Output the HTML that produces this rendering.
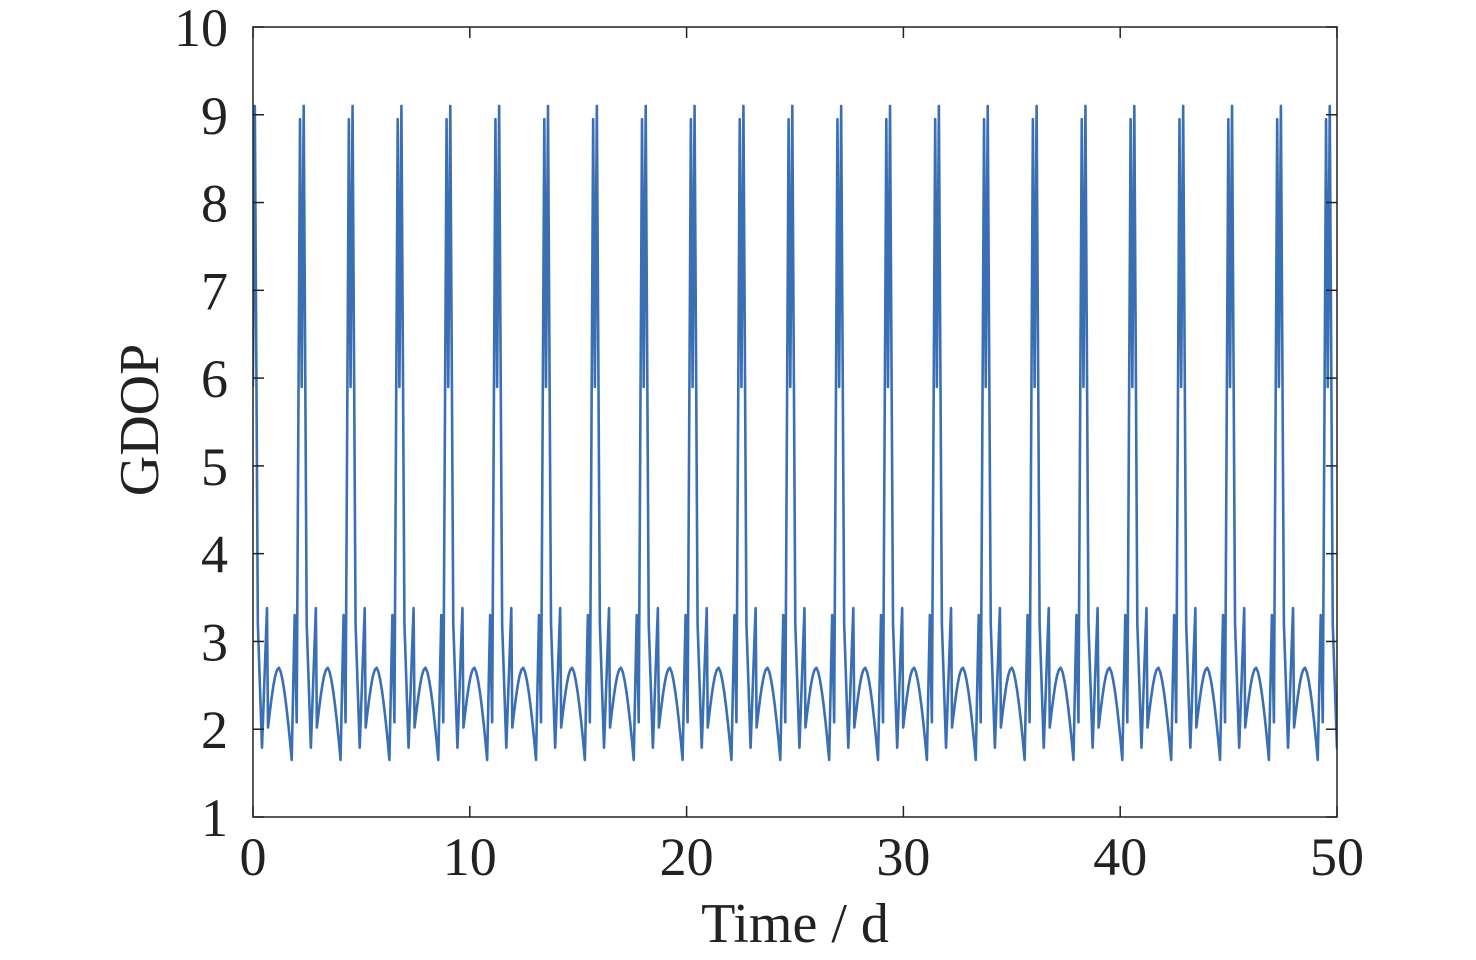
<!DOCTYPE html>
<html><head><meta charset="utf-8"><style>
html,body{margin:0;padding:0;background:#fff;width:1476px;height:960px;overflow:hidden}
text{font-family:"Liberation Serif",serif;fill:#222}
</style></head><body>
<svg id="s" width="1476" height="960" xmlns="http://www.w3.org/2000/svg">
<defs><clipPath id="c"><rect x="253" y="20" width="1084" height="797"/></clipPath></defs>
<path id="line" d="" fill="none" stroke="#3a6fb4" stroke-width="2.6" stroke-linejoin="round" clip-path="url(#c)"/>
<rect x="253" y="27" width="1084" height="790" fill="none" stroke="#222" stroke-width="1.5"/>
<g id="ticks" stroke="#222" stroke-width="1.5"></g>
<g id="labels" font-size="54"></g>
<text x="795" y="942" font-size="56" text-anchor="middle">Time / d</text>
<text transform="translate(158,420) rotate(-90)" font-size="56" text-anchor="middle">GDOP</text>
</svg>
<script>
var X=function(t){return 253+t*21.68}, Y=function(v){return 817-(v-1)*87.78};
var ticks=document.getElementById('ticks'),lab=document.getElementById('labels'),h='',l='';
for(var i=0;i<=5;i++){var x=X(i*10);h+='<line x1="'+x+'" y1="817" x2="'+x+'" y2="806"/><line x1="'+x+'" y1="27" x2="'+x+'" y2="38"/>';
l+='<text x="'+x+'" y="875" text-anchor="middle">'+(i*10)+'</text>';}
for(var v=1;v<=10;v++){var y=Y(v);h+='<line x1="253" y1="'+y+'" x2="264" y2="'+y+'"/><line x1="1337" y1="'+y+'" x2="1326" y2="'+y+'"/>';
l+='<text x="228" y="'+(y+19)+'" text-anchor="end">'+v+'</text>';}
ticks.innerHTML=h;lab.innerHTML=l;
var base=[[-45.86,3.2],[-41.7,1.79],[-36.7,3.38],[-35.7,2.02]];
for(var k=1;k<=12;k++){var f=k/13;var dx=-35.7+f*23.7;var v;
if(f<0.46){v=2.02+0.68*Math.sin(f/0.46*Math.PI/2);}else{v=2.7-1.05*Math.pow((f-0.46)/0.54,1.6);} base.push([dx,v]);}
base=base.concat([[-12,1.65],[-9,3.3],[-7,2.08],[-3.7,8.95],[-2,5.9],[0,9.1]]);
var P=48.86,x0=254.84,d='';
for(var n=0;n<24;n++){var c=x0+n*P;for(var j=0;j<base.length;j++){var px=c+base[j][0];if(n==0&&base[j][0]<-2)continue;
d+=(d?'L':'M')+px.toFixed(2)+','+Y(base[j][1]).toFixed(2);}}
document.getElementById('line').setAttribute('d',d);
</script>
</body></html>
